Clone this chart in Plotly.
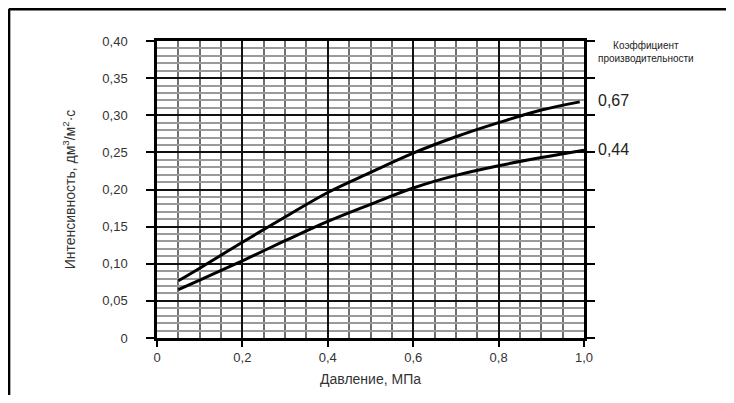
import plotly.graph_objects as go

# Data
pressure = [0.05, 0.1, 0.2, 0.3, 0.4, 0.5, 0.6, 0.7, 0.8, 0.9, 0.99]
k067 = [0.077, 0.094, 0.129, 0.163, 0.196, 0.223, 0.249, 0.271, 0.290, 0.307, 0.318]
pressure_b = [0.05, 0.1, 0.2, 0.3, 0.4, 0.5, 0.6, 0.7, 0.8, 0.9, 1.0]
k044 = [0.065, 0.078, 0.104, 0.131, 0.157, 0.180, 0.202, 0.219, 0.232, 0.243, 0.253]

x_tickvals = [0, 0.2, 0.4, 0.6, 0.8, 1.0]
x_ticktext = ["0", "0,2", "0,4", "0,6", "0,8", "1,0"]
y_tickvals = [0, 0.05, 0.10, 0.15, 0.20, 0.25, 0.30, 0.35, 0.40]
y_ticktext = ["0", "0,05", "0,10", "0,15", "0,20", "0,25", "0,30", "0,35", "0,40"]

series_labels = ["0,67", "0,44"]
legend_title = "Коэффициент<br>производительности"

FONT = "Liberation Sans, Arial, sans-serif"
NARROW = "Liberation Sans Narrow, Arial Narrow, Liberation Sans, sans-serif"

fig = go.Figure()
fig.add_trace(go.Scatter(x=pressure, y=k067, mode="lines",
                         line=dict(color="black", width=3, shape="spline"),
                         showlegend=False, hoverinfo="skip"))
fig.add_trace(go.Scatter(x=pressure_b, y=k044, mode="lines",
                         line=dict(color="black", width=3, shape="spline"),
                         showlegend=False, hoverinfo="skip"))

fig.update_xaxes(range=[0, 1.0], tickvals=x_tickvals, ticktext=x_ticktext,
                 automargin=False,
                 showgrid=True, gridcolor="#111", gridwidth=2,
                 minor=dict(dtick=0.05, tick0=0, showgrid=True, gridcolor="#707070", gridwidth=1.5),
                 ticks="outside", ticklen=6, tickwidth=2, tickcolor="black",
                 showline=True, linecolor="black", linewidth=2.5, mirror=True,
                 zeroline=False,
                 tickfont=dict(family=FONT, size=13, color="#333"),
                 title=dict(text="Давление, МПа", font=dict(family=FONT, size=14, color="#333"),
                            standoff=10))
fig.update_yaxes(range=[0, 0.40], tickvals=y_tickvals, ticktext=y_ticktext,
                 automargin=False,
                 showgrid=True, gridcolor="#111", gridwidth=2,
                 minor=dict(dtick=0.01, tick0=0, showgrid=True, gridcolor="#9a9a9a", gridwidth=1.5),
                 ticks="outside", ticklen=8, tickwidth=2, tickcolor="black",
                 showline=True, linecolor="black", linewidth=2.5, mirror="ticks",
                 zeroline=False, ticklabelstandoff=16,
                 tickfont=dict(family=FONT, size=13, color="#333"),
                 title=dict(text="Интенсивность, дм<sup>3</sup>/м<sup>2</sup>·с",
                            font=dict(family=FONT, size=14, color="#333"), standoff=24))

# Series labels at the right end of each curve
fig.add_annotation(x=1.0, y=k067[-1], xref="x", yref="y", text=series_labels[0],
                   showarrow=False, xanchor="left", xshift=12, yshift=1,
                   font=dict(family=NARROW, size=16, color="#222"))
fig.add_annotation(x=1.0, y=k044[-1], xref="x", yref="y", text=series_labels[1],
                   showarrow=False, xanchor="left", xshift=12, yshift=1,
                   font=dict(family=NARROW, size=16, color="#222"))
fig.add_annotation(x=1.145, y=1.0, xref="paper", yref="paper", text=legend_title,
                   showarrow=False, xanchor="center", yanchor="middle", yshift=-11,
                   align="center",
                   font=dict(family=NARROW, size=10, color="#222"))

# Outer frame lines (top and left) of the reference picture
fig.add_shape(type="line", xref="paper", yref="paper", x0=-0.347, x1=1.40, y0=1.108, y1=1.108,
              line=dict(color="black", width=3))
fig.add_shape(type="line", xref="paper", yref="paper", x0=-0.347, x1=-0.347, y0=1.108, y1=-0.25,
              line=dict(color="black", width=3))

# The page body adds an 8 px margin, so the figure is sized to fit inside it
fig.update_layout(width=718, height=387,
                  margin=dict(l=149, r=142, t=33, b=57),
                  paper_bgcolor="white", plot_bgcolor="white",
                  showlegend=False)

fig.write_html("out.html")
